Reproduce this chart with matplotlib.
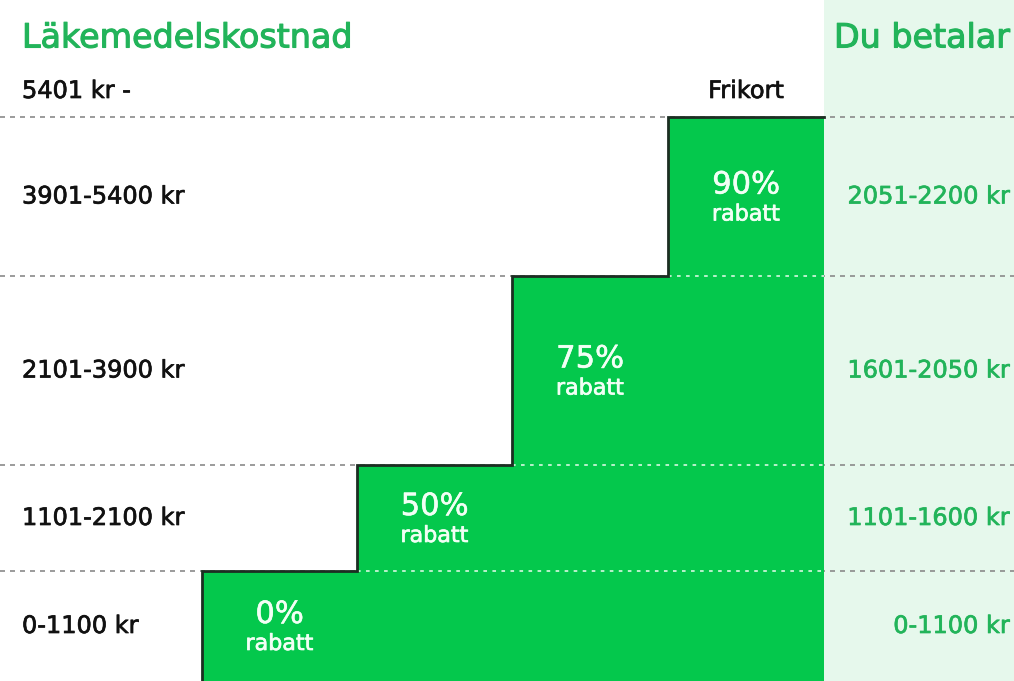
import matplotlib
matplotlib.use("Agg")
import matplotlib.pyplot as plt
import matplotlib.patheffects as pe

# ---- data ----
cost_labels = ["0-1100 kr", "1101-2100 kr", "2101-3900 kr", "3901-5400 kr"]
discounts = [0, 50, 75, 90]
pay_labels = ["0-1100 kr", "1101-1600 kr", "1601-2050 kr", "2051-2200 kr"]
top_cost_label = "5401 kr -"
top_step_label = "Frikort"
title_left = "Läkemedelskostnad"
title_right = "Du betalar"

# ---- layout (pixel space) ----
W, H = 1014, 681
row_edges = [681, 571, 465, 276, 117]   # bottom edge of tier 0 ... top of tier 3
top_row_top = 65
step_left = [202, 357, 512, 668]
step_right = 824

GREEN = "#04c84c"
PANEL = "#e6f8ec"
TEXT_GREEN = "#22b45a"
DARK = "#1c2e22"
WHITE = "#f2fff5"
LBL = 17.3


def heavy(color, w=0.5):
    return [pe.withStroke(linewidth=w, foreground=color)]


plt.rcParams['font.family'] = ['DejaVu Sans']
fig = plt.figure(figsize=(W / 100, H / 100), dpi=100)
ax = fig.add_axes([0, 0, 1, 1])
ax.set_xlim(0, W)
ax.set_ylim(H, 0)
ax.axis("off")

# right panel
ax.bar(step_right, H, width=W - step_right, bottom=0, align="edge", color=PANEL, zorder=0)

# dashed separators
for y in row_edges[1:]:
    ax.plot([0, W], [y, y], color="#8a8a8a", lw=1.2, ls=(0, (3, 3)), zorder=1)

# steps
for i, d in enumerate(discounts):
    top = row_edges[i + 1]
    ax.bar(step_left[i], H - top, width=step_right - step_left[i], bottom=top,
           align="edge", color=GREEN, zorder=2, linewidth=0)

# light dashes over green
for i in range(1, len(discounts)):
    y = row_edges[i]
    ax.plot([step_left[i], step_right], [y, y], color="#c8f5d6", lw=1.3,
            ls=(0, (2, 3)), zorder=3)

# staircase outline
xs, ys = [step_left[0]], [H]
for i in range(len(discounts)):
    top = row_edges[i + 1]
    xs += [step_left[i], step_left[i]]
    ys += [ys[-1], top]
    nxt = step_left[i + 1] if i + 1 < len(discounts) else step_right
    xs.append(nxt)
    ys.append(top)
ax.plot(xs[1:], ys[1:], color=DARK, lw=2, zorder=4, solid_joinstyle="miter")

# labels
for i, d in enumerate(discounts):
    yc = (row_edges[i] + row_edges[i + 1]) / 2
    xc = (step_left[i] + (step_left[i + 1] if i + 1 < len(discounts) else step_right)) / 2
    ax.text(xc, yc - 3, f"{d}%", color=WHITE, fontsize=22, ha="center", va="baseline",
            zorder=5, path_effects=heavy(WHITE, 0.4))
    ax.text(xc, yc + 24, "rabatt", color=WHITE, fontsize=16, ha="center", va="baseline",
            zorder=5, path_effects=heavy(WHITE))
    ax.text(22, yc, cost_labels[i], color="#111111", fontsize=LBL, ha="left", va="center",
            zorder=5, path_effects=heavy("#111111"))
    ax.text(1010, yc, pay_labels[i], color=TEXT_GREEN, fontsize=LBL, ha="right", va="center",
            zorder=5, path_effects=heavy(TEXT_GREEN))

ytop = (top_row_top + row_edges[-1]) / 2
ax.text(22, ytop, top_cost_label, color="#111111", fontsize=LBL, ha="left", va="center",
        path_effects=heavy("#111111"))
ax.text((step_left[-1] + step_right) / 2, ytop, top_step_label, color="#111111",
        fontsize=LBL, ha="center", va="center", path_effects=heavy("#111111"))
ax.text(22, 38, title_left, color=TEXT_GREEN, fontsize=24, ha="left", va="center",
        path_effects=heavy(TEXT_GREEN, 0.8))
ax.text(1010, 38, title_right, color=TEXT_GREEN, fontsize=24, ha="right", va="center",
        path_effects=heavy(TEXT_GREEN, 0.8))

fig.savefig("out.png", dpi=100)
